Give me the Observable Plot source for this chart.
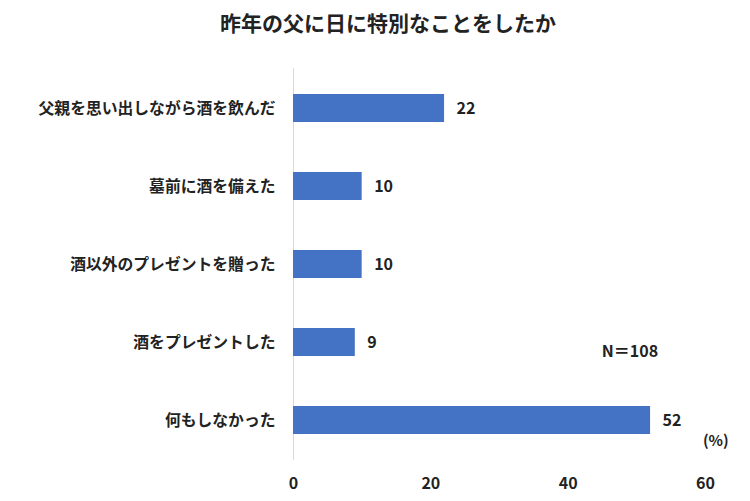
<!DOCTYPE html>
<html><head><meta charset="utf-8">
<script src="https://cdn.jsdelivr.net/npm/d3@7"></script>
<script src="https://cdn.jsdelivr.net/npm/@observablehq/plot@0.6"></script>
<style>
body{margin:0;background:#fff;font-family:"Noto Sans CJK JP","Noto Sans",sans-serif;}
#title{height:44px;line-height:44px;text-align:center;padding-left:26px;font-size:21px;font-weight:bold;color:#222;}
</style></head>
<body>
<div id="title">昨年の父に日に特別なことをしたか</div>
<div id="chart"></div>
<script>
const categories = ["父親を思い出しながら酒を飲んだ","墓前に酒を備えた","酒以外のプレゼントを贈った","酒をプレゼントした","何もしなかった"];
const values = [22, 10, 10, 9, 52];
const xTicks = [0, 20, 40, 60];
const sampleNote = "N＝108";
const unitNote = "(%)";
const data = categories.map((c, i) => ({category: c, value: values[i]}));
const font = '"Noto Sans CJK JP","Noto Sans",sans-serif';
const chart = Plot.plot({
  width: 750, height: 457,
  marginLeft: 293, marginRight: 45, marginTop: 24, marginBottom: 41,
  style: {fontFamily: font, color: "#222", background: "#fff"},
  x: {domain: [0, 60], ticks: xTicks},
  y: {domain: categories, paddingInner: 0.64, paddingOuter: 0.32},
  marks: [
    Plot.ruleX([0], {stroke: "#d9d9d9", strokeWidth: 1}),
    Plot.barX(data, {y: "category", x: "value", fill: "#4472C4"}),
    Plot.text(data, {y: "category", x: "value", text: d => String(d.value), textAnchor: "start", dx: 12, fontSize: 16, fontWeight: "bold", fill: "#222"}),
    Plot.axisX({ticks: xTicks, tickSize: 0, tickPadding: 17, fontSize: 16, fontWeight: "bold", fill: "#222", label: null}),
    Plot.axisY({tickSize: 0, tickPadding: 18, fontSize: 15.8, fontWeight: "bold", fill: "#222", label: null}),
    Plot.text([sampleNote], {x: 49, y: [categories[3]], text: d => d, dy: 9, fontSize: 16, fontWeight: "bold", fill: "#222"}),
    Plot.text([unitNote], {x: 61.5, y: [categories[4]], text: d => d, dy: 21, fontSize: 15, fontWeight: "bold", fill: "#222"})
  ]
});
document.getElementById("chart").appendChild(chart);
</script>
</body></html>
